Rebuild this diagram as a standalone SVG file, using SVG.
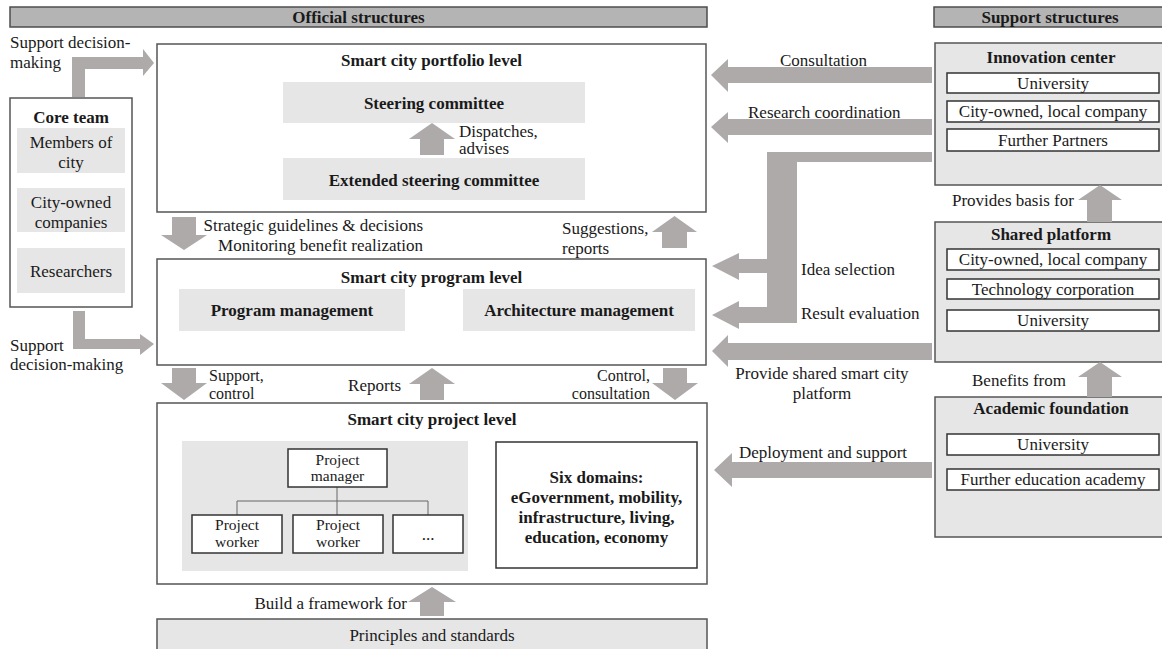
<svg xmlns="http://www.w3.org/2000/svg" width="1162" height="649" viewBox="0 0 1162 649">
<style>
text{font-family:"Liberation Serif","Times New Roman",serif;font-size:17px;fill:#1a1a1a}
.b{font-weight:bold}
.m{text-anchor:middle}
.e{text-anchor:end}
.s{font-size:15.5px}
.t{font-size:16px}
.hdr{fill:#b4b4b4;stroke:#4d4d4d;stroke-width:1.5}
.box{fill:#fff;stroke:#555;stroke-width:1.5}
.sup{fill:#e6e6e6;stroke:#555;stroke-width:1.5}
.lt{fill:#e6e6e6}
.ib{fill:#fff;stroke:#333;stroke-width:1.5}
.arr{fill:#aeaaaa}
.ln{fill:none;stroke:#666;stroke-width:1}
</style>
<g id="headers">
<rect class="hdr" x="10" y="7" width="697" height="20"/>
<text class="b m" x="358.5" y="23">Official structures</text>
<rect class="hdr" x="934" y="7" width="230" height="20"/>
<text class="b m" x="1050" y="23">Support structures</text>
</g>
<g id="portfolio">
<rect class="box" x="157" y="44" width="549" height="168"/>
<text class="b m" x="431.5" y="66">Smart city portfolio level</text>
<rect class="lt" x="283" y="82" width="302" height="41"/>
<text class="b m" x="434" y="109">Steering committee</text>
<rect class="lt" x="283" y="158" width="302" height="42"/>
<text class="b m" x="434" y="186">Extended steering committee</text>
</g>
<g id="core-team">
<rect class="box" x="10" y="98" width="122" height="209"/>
<text class="b m" x="71" y="123">Core team</text>
<rect class="lt" x="17" y="128" width="108" height="45"/>
<text class="m" x="71" y="148">Members of</text>
<text class="m" x="71" y="168">city</text>
<rect class="lt" x="17" y="188" width="108" height="44"/>
<text class="m" x="71" y="208">City-owned</text>
<text class="m" x="71" y="228">companies</text>
<rect class="lt" x="17" y="248" width="108" height="45"/>
<text class="m" x="71" y="277">Researchers</text>
</g>
<g id="program">
<rect class="box" x="157" y="259" width="549" height="106"/>
<text class="b m" x="431.5" y="283">Smart city program level</text>
<rect class="lt" x="179" y="289" width="226" height="42"/>
<text class="b m" x="292" y="316">Program management</text>
<rect class="lt" x="463" y="289" width="232" height="42"/>
<text class="b m" x="579" y="316">Architecture management</text>
</g>
<g id="project">
<rect class="box" x="157" y="403" width="550" height="181"/>
<text class="b m" x="432" y="425">Smart city project level</text>
<rect class="lt" x="182" y="441" width="286" height="130"/>
<path class="ln" d="M337 487V501M237 515V501H428V515M337 501V515"/>
<rect class="ib" x="288" y="449" width="99" height="38"/>
<text class="m s" x="337.5" y="465">Project</text>
<text class="m s" x="337.5" y="481">manager</text>
<rect class="ib" x="192" y="515" width="90" height="38"/>
<text class="m s" x="237" y="530">Project</text>
<text class="m s" x="237" y="547">worker</text>
<rect class="ib" x="293" y="515" width="90" height="38"/>
<text class="m s" x="338" y="530">Project</text>
<text class="m s" x="338" y="547">worker</text>
<rect class="ib" x="393" y="515" width="70" height="38"/>
<text class="m" x="428" y="540">...</text>
<rect class="ib" x="496" y="442" width="201" height="126"/>
<text class="b m" x="596.5" y="483">Six domains:</text>
<text class="b m" x="596.5" y="503">eGovernment, mobility,</text>
<text class="b m" x="596.5" y="523">infrastructure, living,</text>
<text class="b m" x="596.5" y="543">education, economy</text>
</g>
<g id="principles">
<rect class="sup" x="157" y="619" width="550" height="40"/>
<text class="m" x="432" y="641">Principles and standards</text>
</g>
<g id="innovation-center">
<rect class="sup" x="935" y="43" width="230" height="142"/>
<text class="b m" x="1051" y="63">Innovation center</text>
<rect class="ib" x="947" y="73" width="212" height="20"/>
<text class="m" x="1053" y="89">University</text>
<rect class="ib" x="947" y="101" width="212" height="21"/>
<text class="m" x="1053" y="117">City-owned, local company</text>
<rect class="ib" x="947" y="129" width="212" height="22"/>
<text class="m" x="1053" y="146">Further Partners</text>
</g>
<g id="shared-platform">
<rect class="sup" x="935" y="222" width="230" height="140"/>
<text class="b m" x="1051" y="240">Shared platform</text>
<rect class="ib" x="947" y="249" width="212" height="21"/>
<text class="m" x="1053" y="265">City-owned, local company</text>
<rect class="ib" x="947" y="279" width="212" height="20"/>
<text class="m" x="1053" y="295">Technology corporation</text>
<rect class="ib" x="947" y="310" width="212" height="21"/>
<text class="m" x="1053" y="326">University</text>
</g>
<g id="academic-foundation">
<rect class="sup" x="935" y="397" width="230" height="140"/>
<text class="b m" x="1051" y="414">Academic foundation</text>
<rect class="ib" x="947" y="434" width="212" height="21"/>
<text class="m" x="1053" y="450">University</text>
<rect class="ib" x="947" y="469" width="212" height="21"/>
<text class="m" x="1053" y="485">Further education academy</text>
</g>
<g id="connectors">
<polygon class="arr" points="72,97 72,57 143,57 143,49 154,63 143,76 143,69 85,69 85,97"/>
<polygon class="arr" points="73,311 85,311 85,339 140,339 140,334 154,344 140,355 140,349 73,349"/>
<polygon class="arr" points="420,155 420,139 409,139 432,123 455,139 444,139 444,155"/>
<polygon class="arr" points="172,217 196,217 196,235 207,235 184,250 161,235 172,235"/>
<polygon class="arr" points="662,248 662,232 652,232 674.5,216 697,232 687,232 687,248"/>
<polygon class="arr" points="172,368 196,368 196,383 207,383 184,400 161,383 172,383"/>
<polygon class="arr" points="420,400 420,384 409,384 432,368 455,384 444,384 444,400"/>
<polygon class="arr" points="663,368 687,368 687,383 698,383 675,400 652,383 663,383"/>
<polygon class="arr" points="420,616 420,602 408,602 432,587 456,602 444,602 444,616"/>
<polygon class="arr" points="1087,222 1087,200 1078,200 1100,185 1122,200 1112,200 1112,222"/>
<polygon class="arr" points="1087,397 1087,377 1078,377 1100,362 1122,377 1112,377 1112,397"/>
<polygon class="arr" points="932,67 932,83 728,83 728,92 711,75 728,59 728,67"/>
<polygon class="arr" points="932,119 932,135 728,135 728,143 711,127 728,112 728,119"/>
<polygon class="arr" points="932,343 932,360 728,360 728,367 712,351 728,335 728,343"/>
<polygon class="arr" points="932,462 932,478 732,478 732,487 714,470 732,453 732,462"/>
<polygon class="arr" points="932,152 932,162 797,162 797,323 739,323 739,329 712,315 739,301 739,307 767,307 767,273 739,273 739,280 712,266 739,253 739,259 767,259 767,152"/>
</g>
<g id="labels">
<text x="10" y="48">Support decision-</text>
<text x="10" y="68">making</text>
<text x="10" y="351">Support</text>
<text x="10" y="370">decision-making</text>
<text x="459" y="137">Dispatches,</text>
<text x="459" y="154">advises</text>
<text class="e" x="423" y="231">Strategic guidelines &amp; decisions</text>
<text class="e" x="423" y="251">Monitoring benefit realization</text>
<text x="562" y="234">Suggestions,</text>
<text x="562" y="254">reports</text>
<text class="t" x="209" y="381">Support,</text>
<text class="t" x="209" y="399">control</text>
<text class="e" x="401" y="391">Reports</text>
<text class="e t" x="650" y="381">Control,</text>
<text class="e t" x="650" y="399">consultation</text>
<text class="e" x="407" y="609">Build a framework for</text>
<text x="780" y="66">Consultation</text>
<text x="748" y="118">Research coordination</text>
<text x="801" y="275">Idea selection</text>
<text x="801" y="319">Result evaluation</text>
<text class="m" x="822" y="379">Provide shared smart city</text>
<text class="m" x="822" y="399">platform</text>
<text x="739" y="458">Deployment and support</text>
<text x="952" y="206">Provides basis for</text>
<text x="972" y="386">Benefits from</text>
</g>
</svg>
